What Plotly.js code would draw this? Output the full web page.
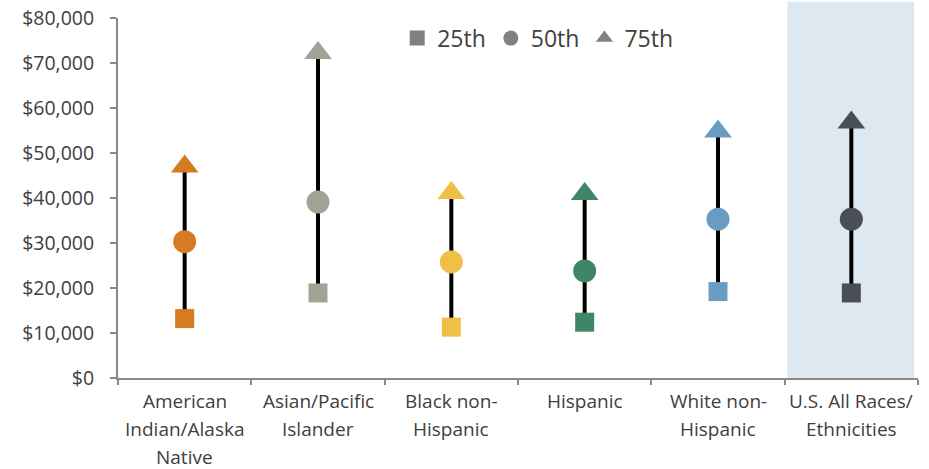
<!DOCTYPE html>
<html>
<head>
<meta charset="utf-8">
<script src="https://cdn.plot.ly/plotly-3.0.1.min.js"></script>
<style>html,body{margin:0;padding:0;background:#fff;}#chart{width:929px;height:469px;}</style>
</head>
<body>
<div id="chart"></div>
<script>
var categories = ["American Indian/Alaska Native", "Asian/Pacific Islander", "Black non-Hispanic", "Hispanic", "White non-Hispanic", "U.S. All Races/Ethnicities"];
var labelLines = [["American", "Indian/Alaska", "Native"], ["Asian/Pacific", "Islander"], ["Black non-", "Hispanic"], ["Hispanic"], ["White non-", "Hispanic"], ["U.S. All Races/", "Ethnicities"]];
var p25 = [13200, 18900, 11300, 12400, 19200, 18900];
var p50 = [30300, 39100, 25800, 23800, 35300, 35300];
var p75 = [47000, 72200, 41100, 40900, 54800, 56800];
var colors = ["#D67B22", "#A2A395", "#F0BF47", "#3F8568", "#6A9CC1", "#4A4E55"];
var legendNames = ["25th", "50th", "75th"];
var legendColor = "#808080";

var lx = [], ly = [];
for (var i = 0; i < categories.length; i++) {
  lx.push(categories[i], categories[i], null);
  ly.push(p25[i], p75[i], null);
}

var yfont = {family: "Open Sans, sans-serif", size: 19.5, color: "#404040"};
var xfont = {family: "Open Sans, sans-serif", size: 19, color: "#404040"};

var traces = [
  {type: "scatter", mode: "lines", x: lx, y: ly, line: {color: "#000", width: 4}, showlegend: false, hoverinfo: "skip", connectgaps: false},
  {type: "scatter", mode: "markers", x: categories, y: p25, marker: {symbol: "square", size: 19, color: colors}, showlegend: false},
  {type: "scatter", mode: "markers", x: categories, y: p50, marker: {symbol: "circle", size: 23, color: colors}, showlegend: false},
  {type: "scatter", mode: "markers", x: categories, y: p75, marker: {symbol: "triangle-up", size: 24, color: colors}, showlegend: false},
  {type: "scatter", mode: "markers", x: [null], y: [null], name: legendNames[0], marker: {symbol: "square", size: 15, color: legendColor}},
  {type: "scatter", mode: "markers", x: [null], y: [null], name: legendNames[1], marker: {symbol: "circle", size: 15, color: legendColor}},
  {type: "scatter", mode: "markers", x: [null], y: [null], name: legendNames[2], marker: {symbol: "triangle-up", size: 15, color: legendColor}}
];

var annotations = [];
for (var c = 0; c < categories.length; c++) {
  for (var k = 0; k < labelLines[c].length; k++) {
    annotations.push({
      xref: "x", yref: "paper", x: categories[c], y: 0, yanchor: "middle",
      yshift: -23 - 28 * k, showarrow: false, text: labelLines[c][k], font: xfont
    });
  }
}

var layout = {
  width: 929, height: 469,
  margin: {l: 118, r: 11, t: 18, b: 91},
  paper_bgcolor: "#fff", plot_bgcolor: "rgba(0,0,0,0)",
  font: yfont,
  showlegend: true,
  legend: {orientation: "h", x: 0.349, y: 0.944, xanchor: "left", yanchor: "middle", font: {family: "Open Sans, sans-serif", size: 23, color: "#404040"}, bgcolor: "rgba(0,0,0,0)", itemclick: false},
  xaxis: {
    type: "category", categoryorder: "array", categoryarray: categories,
    range: [-0.5, 5.5],
    tickson: "boundaries", ticks: "outside", ticklen: 5, tickwidth: 2, tickcolor: "#898989",
    showline: true, linecolor: "#898989", linewidth: 2, showticklabels: false,
    showgrid: false, zeroline: false, fixedrange: true
  },
  yaxis: {
    range: [0, 80000], dtick: 10000, tickformat: "$,d",
    ticks: "outside", ticklen: 6, tickwidth: 2, tickcolor: "#898989",
    ticklabelstandoff: 12,
    showline: true, linecolor: "#898989", linewidth: 2,
    showgrid: false, zeroline: false, fixedrange: true,
    tickfont: yfont
  },
  annotations: annotations,
  shapes: [
    {type: "rect", xref: "x", yref: "paper", x0: 4.52, x1: 5.47, y0: 0, y1: 1.045, fillcolor: "#DEE8F1", line: {width: 0}, layer: "below"}
  ]
};

Plotly.newPlot("chart", traces, layout, {displayModeBar: false, staticPlot: true});
</script>
</body>
</html>
